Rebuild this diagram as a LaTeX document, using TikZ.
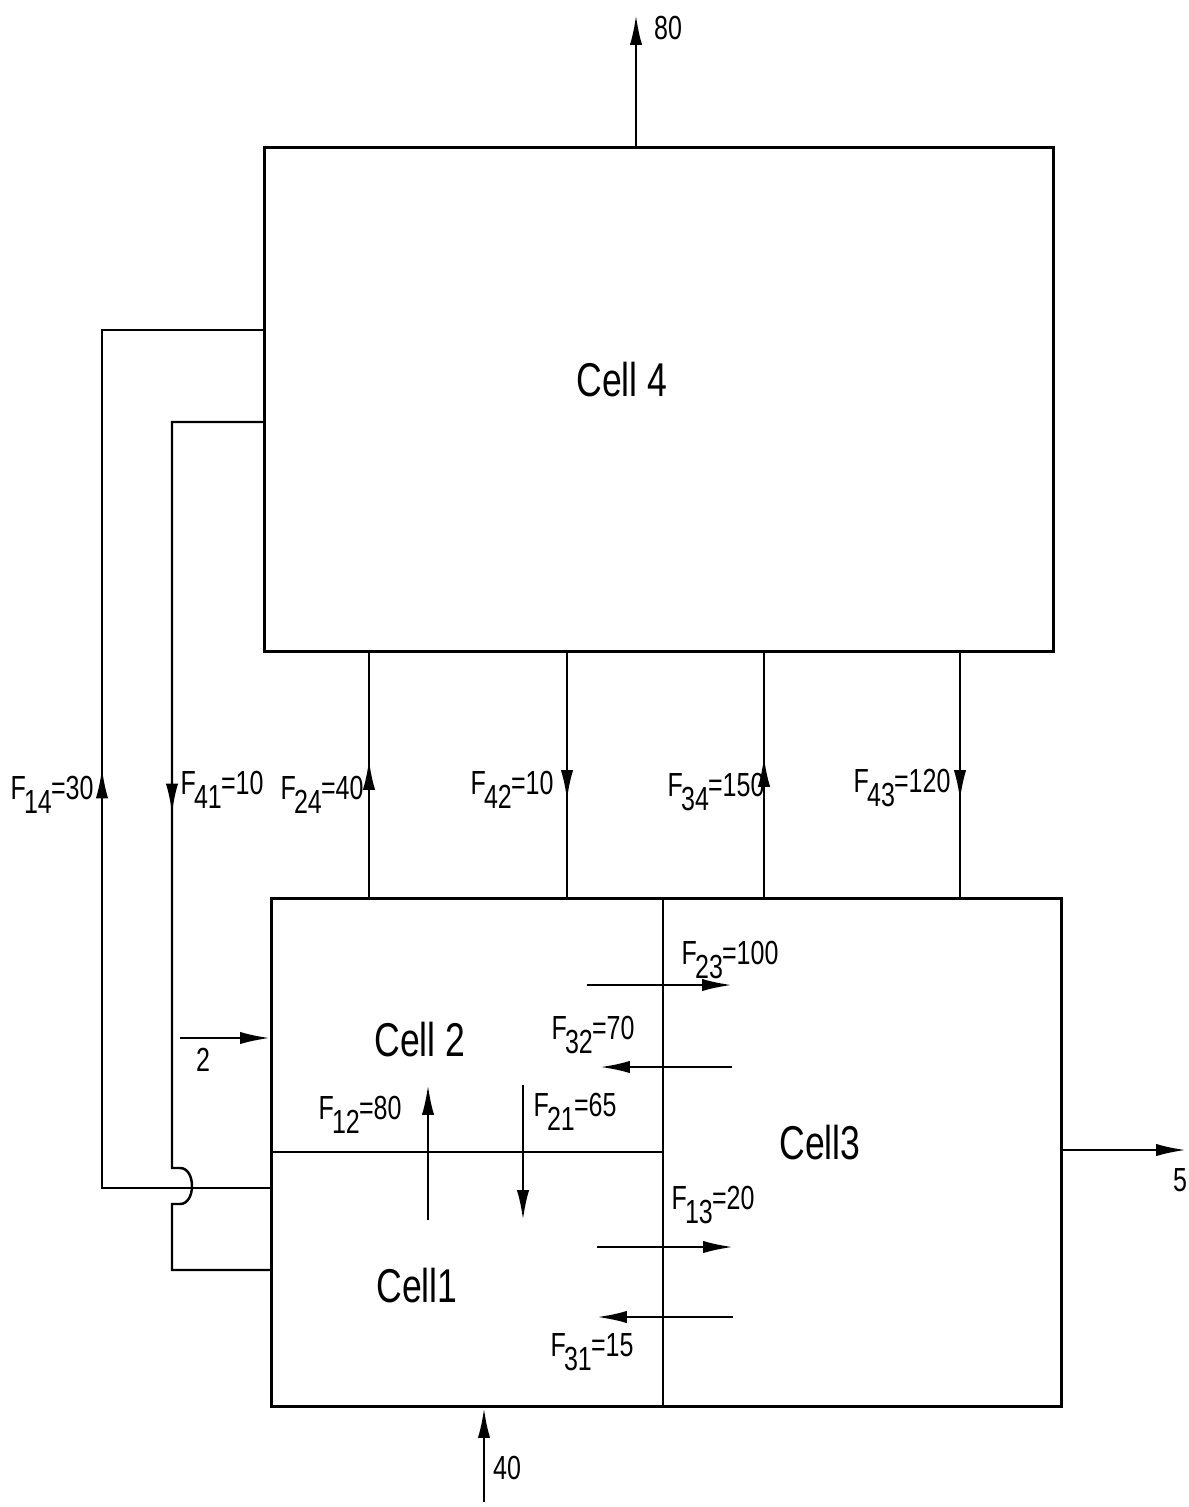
\documentclass[tikz,border=0pt]{standalone}
\usepackage{fontspec}
\setmainfont[FakeStretch=0.75]{Liberation Sans}
\usetikzlibrary{arrows.meta,decorations.markings}
\newcommand{\flowlab}[2]{F\kern-1pt\raisebox{-0.8ex}{#1}\kern-0.5pt=#2}

\begin{document}
\begin{tikzpicture}[x=0.02cm,y=-0.02cm,
  pipe/.style={line width=1.4pt},
  flow/.style={pipe,-{Latex[length=17pt,width=7pt]}},
  midflow/.style={pipe,postaction={decorate},decoration={markings,
    mark=at position #1 with {\arrow{Latex[length=17pt,width=7pt]}}}},
  cellbox/.style={draw,line width=1.8pt,inner sep=0pt,anchor=north west},
  celltext/.style={font=\fontsize{27}{30}\selectfont},
  flowtext/.style={font=\fontsize{19}{21}\selectfont,inner sep=1pt}]
  \useasboundingbox (0,0) rectangle (1189,1507);
  % Cell 4 on top
  \node[cellbox,minimum width=15.78cm,minimum height=10.08cm] (cellfour) at (263,146) {};
  \node[celltext] (cfour) at (622,380) {Cell 4};
  % lower box with cells 1, 2 and 3
  \node[cellbox,minimum width=15.8cm,minimum height=10.16cm] (lowbox) at (270,897) {};
  \draw[pipe] (663,0 |- lowbox.north) -- (663,0 |- lowbox.south);
  \draw[pipe] (lowbox.west |- 0,1152) -- (663,1152);
  \node[celltext] (ctwo) at (420,1040) {Cell 2};
  \node[celltext] (cone) at (417,1286) {Cell1};
  \node[celltext] (cthree) at (820,1143) {Cell3};
  % exchange between cell 4 and the lower cells
  \foreach \x/\ya/\yb/\pos/\n/\v/\lx/\ly in
    {369/897/650/0.555/24/40/322/795, 567/650/897/0.607/42/10/512/790,
     764/897/650/0.567/34/150/716/792, 960/650/897/0.607/43/120/902/788} {
    \draw[midflow=\pos] (\x,\ya) -- (\x,\yb);
    \node[flowtext] (l\n) at (\lx,\ly) {\flowlab{\n}{\v}};
  }
  % side loops between cell 1 and cell 4
  \draw[midflow=0.495] (lowbox.west |- 0,1188) -- (102,1188) -- (102,330)
    -- (cellfour.west |- 0,330);
  \node[flowtext] (l14) at (52,795) {\flowlab{14}{30}};
  \draw[midflow=0.453] (cellfour.west |- 0,422) -- (172,422) -- (172,1168) -- (180,1168)
    .. controls (196,1168) and (196,1204) .. (180,1204) -- (172,1204) -- (172,1270)
    -- (lowbox.west |- 0,1270);
  \node[flowtext] (l41) at (222,790) {\flowlab{41}{10}};
  % flows inside the lower box
  \foreach \n/\xa/\ya/\xb/\yb in {12/428/1220/428/1085, 21/523/1085/523/1220,
      23/587/985/732/985, 32/732/1067/600/1067, 13/597/1247/733/1247,
      31/733/1317/597/1317} {
    \coordinate (s\n) at (\xa,\ya);
    \coordinate (e\n) at (\xb,\yb);
    \draw[flow] (s\n) -- (e\n);
  }
  \foreach \n/\v/\lx/\ly in {12/80/360/1115, 21/65/575/1112, 23/100/730/960,
      32/70/593/1035, 13/20/713/1205, 31/15/592/1352}
    \node[flowtext] (l\n) at (\lx,\ly) {\flowlab{\n}{\v}};
  % feeds and outlets
  \coordinate (out80) at (636,15);
  \draw[flow] (out80 |- cellfour.north) -- (out80);
  \node[flowtext] (l80) at (668,28) {80};
  \coordinate (in2) at (180,1038);
  \draw[flow] (in2) -- (in2 -| lowbox.west);
  \node[flowtext] (l2) at (203,1060) {2};
  \coordinate (out5) at (1186,1150);
  \draw[flow] (lowbox.east |- out5) -- (out5);
  \node[flowtext] (l5) at (1180,1180) {5};
  \coordinate (in40) at (484,1502);
  \draw[flow] (in40) -- (in40 |- lowbox.south);
  \node[flowtext] (l40) at (507,1468) {40};
\end{tikzpicture}
\end{document}
